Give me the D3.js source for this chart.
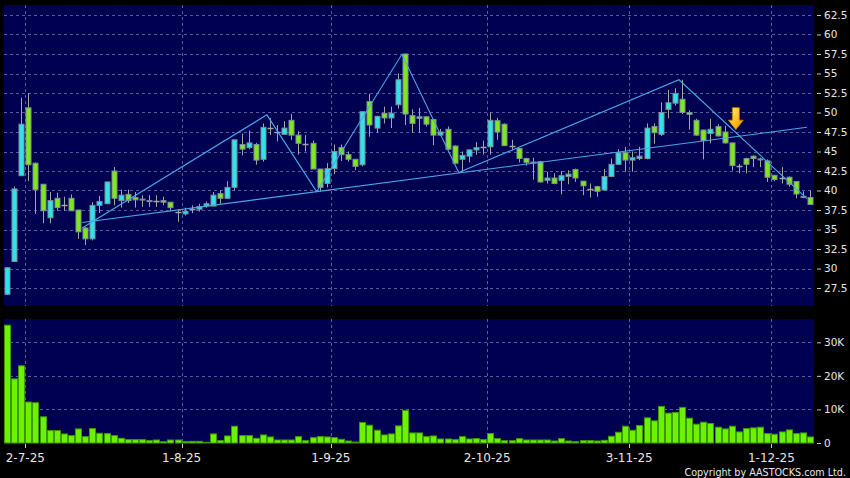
<!DOCTYPE html>
<html><head><meta charset="utf-8">
<script src="https://cdn.jsdelivr.net/npm/d3@7"></script>
<style>
html,body{margin:0;padding:0;background:#000;}
svg{display:block;}
</style></head><body>
<svg id="chart" width="850" height="478"></svg>
<script>
// ---------- DATA ----------
const dates = [
"26-6-25","27-6-25","30-6-25",
"2-7-25","3-7-25","4-7-25","7-7-25","8-7-25","9-7-25","10-7-25","11-7-25","14-7-25","15-7-25","16-7-25","17-7-25","18-7-25","21-7-25","22-7-25","23-7-25","24-7-25","25-7-25","28-7-25","29-7-25","30-7-25","31-7-25",
"1-8-25","4-8-25","5-8-25","6-8-25","7-8-25","8-8-25","11-8-25","12-8-25","13-8-25","14-8-25","15-8-25","18-8-25","19-8-25","20-8-25","21-8-25","22-8-25","25-8-25","26-8-25","27-8-25","28-8-25","29-8-25",
"1-9-25","2-9-25","3-9-25","4-9-25","5-9-25","8-9-25","9-9-25","10-9-25","11-9-25","12-9-25","15-9-25","16-9-25","17-9-25","18-9-25","19-9-25","22-9-25","23-9-25","24-9-25","25-9-25","26-9-25","29-9-25","30-9-25",
"2-10-25","3-10-25","6-10-25","8-10-25","9-10-25","10-10-25","13-10-25","14-10-25","15-10-25","16-10-25","17-10-25","20-10-25","21-10-25","22-10-25","23-10-25","24-10-25","27-10-25","28-10-25","30-10-25","31-10-25",
"3-11-25","4-11-25","5-11-25","6-11-25","7-11-25","10-11-25","11-11-25","12-11-25","13-11-25","14-11-25","17-11-25","18-11-25","19-11-25","20-11-25","21-11-25","24-11-25","25-11-25","26-11-25","27-11-25","28-11-25",
"1-12-25","2-12-25","3-12-25","4-12-25","5-12-25","8-12-25"];

const openP = [
26.7,30.9,41.9,50.6,43.5,40.8,36.5,39.0,38.1,39.0,
37.5,35.2,33.8,38.1,38.3,42.5,38.7,39.5,39.1,38.8,
38.7,38.6,38.7,38.5,37.3,37.0,37.6,37.6,38.0,38.0,
39.6,39.0,40.4,45.9,45.5,45.9,44.0,48.0,47.5,47.2,
49.0,47.1,45.9,46.05,42.75,40.9,42.8,45.5,44.6,44.0,
43.3,51.4,48.0,49.9,49.3,51.0,57.5,49.6,49.25,49.45,
49.1,47.1,47.85,45.7,44.0,44.4,45.2,45.6,45.6,48.95,
48.5,45.7,45.4,44.1,43.55,43.7,41.3,41.6,41.3,41.8,
42.7,41.2,40.15,40.5,40.06,41.8,43.35,44.85,43.9,44.1,
44.1,48.2,47.2,50.4,51.2,51.7,50.0,49.0,47.75,47.3,
48.2,47.5,46.1,43.2,44.1,44.4,44.05,43.8,41.95,41.6,
41.7,41.15,39.25,39.1];

const highP = [
30.1,40.5,51.9,52.5,43.6,40.8,39.8,39.7,39.2,39.5,
37.5,35.3,38.5,39.3,41.1,43.0,40.1,40.1,39.8,39.4,
39.4,39.4,39.2,38.5,37.6,37.8,38.1,38.3,38.6,39.8,
40.0,41.2,46.5,47.3,47.7,46.1,48.6,49.3,48.4,48.9,
49.8,47.6,47.1,46.4,42.75,43.5,45.9,45.9,45.0,44.0,
50.1,52.4,49.6,50.75,50.75,55.0,57.5,50.4,50.6,49.5,
49.1,47.9,48.2,45.8,45.0,45.3,46.2,46.4,50.0,49.3,
48.6,46.5,45.4,44.2,44.2,43.8,42.4,42.2,42.5,42.6,
42.8,41.2,40.9,40.6,42.75,44.1,45.3,45.6,45.0,45.6,
48.6,48.6,51.3,52.9,53.1,54.2,50.3,49.2,47.8,49.2,
48.5,48.3,46.1,43.4,44.2,44.5,44.2,44.0,42.0,43.0,
41.8,41.2,39.9,40.0];

const lowP = [
26.6,30.9,41.9,41.2,37.0,35.8,35.8,37.4,37.4,37.4,
33.8,33.0,33.6,37.1,38.3,38.1,37.8,38.4,37.8,37.9,
37.9,37.9,38.1,37.3,36.0,36.8,37.1,37.3,37.8,38.0,
38.3,39.0,40.0,44.5,45.3,43.3,43.7,47.1,46.3,47.2,
46.5,44.6,45.0,42.75,39.85,40.4,42.1,43.8,43.7,42.6,
43.1,46.9,47.4,48.6,48.0,50.5,48.4,47.4,47.4,48.2,
45.8,47.0,45.2,43.4,42.3,43.6,44.6,44.6,44.6,46.5,
45.7,45.2,43.6,43.2,41.4,41.0,40.9,40.8,39.5,40.8,
41.1,39.4,39.1,39.2,40.0,41.7,43.3,42.4,42.4,43.9,
44.0,46.0,47.0,49.25,50.9,49.8,47.8,47.0,44.0,46.05,
46.9,46.0,42.55,42.2,42.2,43.0,43.0,41.1,41.2,40.9,
40.5,39.0,39.0,38.2];

const closeP = [
30.1,40.2,48.5,43.3,40.1,37.4,38.7,37.8,38.1,37.4,
34.7,33.8,38.1,38.6,41.1,39.0,39.4,38.7,38.8,38.9,
38.6,38.6,38.5,37.8,37.3,37.3,37.6,37.95,38.3,39.4,
39.0,40.4,46.5,45.3,46.1,43.9,48.1,48.0,47.5,48.0,
47.1,46.05,45.9,42.75,40.4,42.8,45.0,44.6,44.0,43.1,
50.1,48.4,49.5,49.3,49.9,54.2,49.8,48.6,49.45,48.5,
47.1,47.5,45.3,43.5,44.5,45.2,45.5,45.6,49.0,47.5,
45.75,45.7,44.1,43.6,43.65,41.1,41.6,40.9,41.9,42.1,
41.6,40.6,40.15,39.9,41.8,43.35,44.85,43.9,44.2,44.4,
48.0,47.4,50.0,51.25,52.45,50.0,49.75,47.1,46.4,47.85,
47.0,46.1,43.2,43.2,43.35,44.1,44.0,41.7,41.4,41.6,
40.8,39.55,39.2,38.2];

// volume, thousand shares
const volumeK = [
35.1,19.1,23.0,12.2,12.0,7.8,3.7,3.7,2.7,2.2,
4.2,1.9,4.3,2.9,2.8,2.2,1.4,1.0,1.0,1.0,
0.7,0.9,0.4,0.9,0.9,0.4,0.5,0.5,0.2,2.7,
0.7,2.1,5.0,2.2,2.2,1.4,2.4,1.8,0.9,0.9,
0.9,1.9,0.7,1.6,1.9,1.8,1.6,1.1,0.6,0.3,
6.1,5.3,3.8,2.4,2.7,5.1,9.7,3.0,3.0,1.9,
2.1,1.2,1.2,1.0,1.9,1.2,1.3,1.0,2.8,1.3,
0.7,0.7,1.3,0.9,0.9,0.9,0.9,0.6,1.3,0.6,
0.4,0.7,0.7,0.6,0.8,2.0,3.2,5.0,3.8,5.2,
7.5,6.6,10.9,8.9,9.1,10.6,7.4,5.6,6.2,5.8,
4.7,4.2,5.0,3.3,4.3,4.5,4.7,2.8,2.6,3.3,
3.9,2.8,3.0,1.8];

const dateTicks = ["2-7-25","1-8-25","1-9-25","2-10-25","3-11-25","1-12-25"];
const priceTicks = [27.5,30,32.5,35,37.5,40,42.5,45,47.5,50,52.5,55,57.5,60,62.5];
const volumeTicks = [0,10,20,30];
const volumeTickLabels = ["0","10K","20K","30K"];

// drawn trend lines (date, price)
const zigzagDates = ["14-7-25","19-8-25","28-8-25","15-9-25","25-9-25","12-11-25","8-12-25"];
const zigzagPrices = [35.2,49.7,39.85,57.46,42.3,54.2,38.95];
const supportDates = ["14-7-25","8-12-25"];
const supportPrices = [35.9,48.1];
const arrowDate = "24-11-25";
const arrowPrice = 47.8;

// ---------- CHART ----------
const svg = d3.select("#chart");
const plotL = 4, plotR = 814, mainT = 5, mainB = 306, volT = 319, volB = 443;
const COL_UP = "#2fe3ee", COL_DN = "#7ee81c", COL_BG = "#000050";
const GRID = "#5a5a9c";

const x = d3.scaleBand().domain(dates).range([plotL, plotR]).padding(0);
const y = d3.scaleLinear().domain([27.5, 62.5]).range([288, 15]);
const yv = d3.scaleLinear().domain([0, 30]).range([volB, 342.3]);

svg.append("rect").attr("width", 850).attr("height", 478).attr("fill", "#000");
svg.append("rect").attr("x", plotL).attr("y", mainT).attr("width", plotR - plotL).attr("height", mainB - mainT).attr("fill", COL_BG);
svg.append("rect").attr("x", plotL).attr("y", volT).attr("width", plotR - plotL).attr("height", volB - volT).attr("fill", COL_BG);

const grid = svg.append("g").attr("stroke", GRID).attr("stroke-width", 1).attr("stroke-dasharray", "3,3");
grid.selectAll(".hp").data(priceTicks).join("line")
  .attr("x1", plotL).attr("x2", plotR)
  .attr("y1", d => Math.round(y(d)) + 0.5).attr("y2", d => Math.round(y(d)) + 0.5);
grid.selectAll(".hv").data(volumeTicks.filter(d => d > 0)).join("line").attr("class","hv")
  .attr("x1", plotL).attr("x2", plotR)
  .attr("y1", d => Math.round(yv(d)) + 0.5).attr("y2", d => Math.round(yv(d)) + 0.5);
grid.selectAll(".vm").data(dateTicks).join("line").attr("class","vm")
  .attr("x1", d => Math.round(x(d)) + 0.5).attr("x2", d => Math.round(x(d)) + 0.5)
  .attr("y1", mainT).attr("y2", mainB);
grid.selectAll(".vv").data(dateTicks).join("line").attr("class","vv")
  .attr("x1", d => Math.round(x(d)) + 0.5).attr("x2", d => Math.round(x(d)) + 0.5)
  .attr("y1", volT).attr("y2", volB);

// candles
const bw = x.bandwidth();
const candles = dates.map((d, i) => ({d, o: openP[i], h: highP[i], l: lowP[i], c: closeP[i], v: volumeK[i]}));
const cg = svg.append("g");
const cx = d => Math.floor(x(d.d) + bw / 2) + 0.5;
cg.selectAll(".wick").data(candles).join("line")
  .attr("x1", cx).attr("x2", cx)
  .attr("y1", d => y(d.h)).attr("y2", d => y(d.l))
  .attr("stroke", "#a4a4a4").attr("stroke-width", 1);
cg.selectAll(".body").data(candles.filter(d => d.o !== d.c)).join("rect")
  .attr("x", d => cx(d) - 2.5)
  .attr("width", 5)
  .attr("y", d => y(Math.max(d.o, d.c)))
  .attr("height", d => Math.max(1, Math.abs(y(d.o) - y(d.c))))
  .attr("fill", d => d.c > d.o ? COL_UP : COL_DN)
  .attr("stroke", "#7f8f8f").attr("stroke-width", 1);
cg.selectAll(".doji").data(candles.filter(d => d.o === d.c)).join("line")
  .attr("x1", d => cx(d) - 3).attr("x2", d => cx(d) + 3)
  .attr("y1", d => Math.round(y(d.o)) + 0.5).attr("y2", d => Math.round(y(d.o)) + 0.5)
  .attr("stroke", "#a4a4a4").attr("stroke-width", 1.5);

// trend lines
const line = d3.line().x(d => x(d[0])).y(d => y(d[1]));
svg.append("path").datum(zigzagDates.map((d, i) => [d, zigzagPrices[i]]))
  .attr("d", line).attr("fill", "none").attr("stroke", "#4ba6e6").attr("stroke-width", 1.1);
svg.append("path").datum(supportDates.map((d, i) => [d, supportPrices[i]]))
  .attr("d", line).attr("fill", "none").attr("stroke", "#4ba6e6").attr("stroke-width", 1.1);

// arrow
const defs = svg.append("defs");
const grad = defs.append("linearGradient").attr("id", "gold").attr("x1", 0).attr("y1", 0).attr("x2", 1).attr("y2", 1);
grad.append("stop").attr("offset", "0%").attr("stop-color", "#fff07a");
grad.append("stop").attr("offset", "55%").attr("stop-color", "#ffc020");
grad.append("stop").attr("offset", "100%").attr("stop-color", "#e08a00");
svg.append("path")
  .attr("transform", `translate(${x(arrowDate)},${y(arrowPrice)})`)
  .attr("d", "M0,0 L-7.5,-9.5 L-3.5,-9.5 L-3.5,-22 L3.5,-22 L3.5,-9.5 L7.5,-9.5 Z")
  .attr("fill", "url(#gold)").attr("stroke", "#c07a00").attr("stroke-width", 0.8);

// volume bars
svg.append("g").selectAll("rect").data(candles).join("rect")
  .attr("x", d => cx(d) - 3)
  .attr("width", 6)
  .attr("y", d => yv(d.v))
  .attr("height", d => yv(0) - yv(d.v))
  .attr("fill", "#6cf200").attr("stroke", "#3c9a00").attr("stroke-width", 1);

// axes
const FONT = "DejaVu Sans, Verdana, sans-serif";
const ya = svg.append("g").attr("transform", `translate(817,0)`)
  .call(d3.axisRight(y).tickValues(priceTicks).tickSize(4).tickPadding(3).tickFormat(d => String(d)));
const va = svg.append("g").attr("transform", `translate(817,0)`)
  .call(d3.axisRight(yv).tickValues(volumeTicks).tickSize(4).tickPadding(3).tickFormat((d, i) => volumeTickLabels[i]));
[ya, va].forEach(g => {
  g.select(".domain").remove();
  g.selectAll("line").attr("stroke", "#c8c8c8");
  g.selectAll("text").attr("fill", "#e6e6e6").style("font-family", FONT).style("font-size", "10.5px");
});

// date axis
const xa = svg.append("g");
xa.selectAll("line").data(dateTicks).join("line")
  .attr("x1", d => Math.round(x(d)) + 0.5).attr("x2", d => Math.round(x(d)) + 0.5)
  .attr("y1", volB + 1).attr("y2", volB + 5).attr("stroke", "#c8c8c8");
xa.selectAll("text").data(dateTicks).join("text")
  .attr("x", d => x(d)).attr("y", 461.5)
  .attr("text-anchor", "middle")
  .attr("fill", "#e6e6e6").style("font-family", FONT).style("font-size", "12px")
  .text(d => d)
  .each(function() {
    const b = this.getBBox();
    if (b.x < 2.5) { d3.select(this).attr("text-anchor", "start").attr("x", 2.5); }
  });

svg.append("text").attr("x", 846).attr("y", 475.5).attr("text-anchor", "end")
  .attr("fill", "#e6e6e6").style("font-family", FONT).style("font-size", "9.6px")
  .text("Copyright by AASTOCKS.com Ltd.");
</script>
</body></html>
